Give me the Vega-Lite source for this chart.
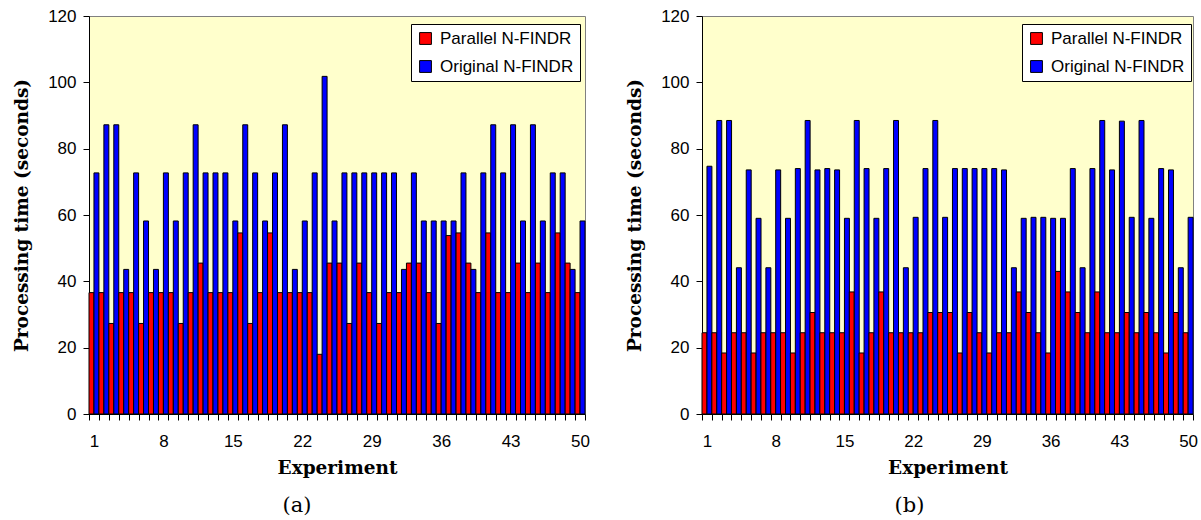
{
  "$schema": "https://vega.github.io/schema/vega-lite/v6.json",
  "padding": {"left": 12, "top": 6, "right": 0, "bottom": 0},
  "background": "white",
  "datasets": {
    "a": [
      {"exp": 1, "Parallel N-FINDR": 36.6, "Original N-FINDR": 72.7},
      {"exp": 2, "Parallel N-FINDR": 36.6, "Original N-FINDR": 87.2},
      {"exp": 3, "Parallel N-FINDR": 27.3, "Original N-FINDR": 87.2},
      {"exp": 4, "Parallel N-FINDR": 36.6, "Original N-FINDR": 43.6},
      {"exp": 5, "Parallel N-FINDR": 36.6, "Original N-FINDR": 72.7},
      {"exp": 6, "Parallel N-FINDR": 27.3, "Original N-FINDR": 58.2},
      {"exp": 7, "Parallel N-FINDR": 36.6, "Original N-FINDR": 43.6},
      {"exp": 8, "Parallel N-FINDR": 36.6, "Original N-FINDR": 72.7},
      {"exp": 9, "Parallel N-FINDR": 36.6, "Original N-FINDR": 58.2},
      {"exp": 10, "Parallel N-FINDR": 27.3, "Original N-FINDR": 72.7},
      {"exp": 11, "Parallel N-FINDR": 36.6, "Original N-FINDR": 87.2},
      {"exp": 12, "Parallel N-FINDR": 45.5, "Original N-FINDR": 72.7},
      {"exp": 13, "Parallel N-FINDR": 36.6, "Original N-FINDR": 72.7},
      {"exp": 14, "Parallel N-FINDR": 36.6, "Original N-FINDR": 72.7},
      {"exp": 15, "Parallel N-FINDR": 36.6, "Original N-FINDR": 58.2},
      {"exp": 16, "Parallel N-FINDR": 54.6, "Original N-FINDR": 87.2},
      {"exp": 17, "Parallel N-FINDR": 27.3, "Original N-FINDR": 72.7},
      {"exp": 18, "Parallel N-FINDR": 36.6, "Original N-FINDR": 58.2},
      {"exp": 19, "Parallel N-FINDR": 54.6, "Original N-FINDR": 72.7},
      {"exp": 20, "Parallel N-FINDR": 36.6, "Original N-FINDR": 87.2},
      {"exp": 21, "Parallel N-FINDR": 36.6, "Original N-FINDR": 43.6},
      {"exp": 22, "Parallel N-FINDR": 36.6, "Original N-FINDR": 58.2},
      {"exp": 23, "Parallel N-FINDR": 36.6, "Original N-FINDR": 72.7},
      {"exp": 24, "Parallel N-FINDR": 18.0, "Original N-FINDR": 101.8},
      {"exp": 25, "Parallel N-FINDR": 45.5, "Original N-FINDR": 58.2},
      {"exp": 26, "Parallel N-FINDR": 45.5, "Original N-FINDR": 72.7},
      {"exp": 27, "Parallel N-FINDR": 27.3, "Original N-FINDR": 72.7},
      {"exp": 28, "Parallel N-FINDR": 45.5, "Original N-FINDR": 72.7},
      {"exp": 29, "Parallel N-FINDR": 36.6, "Original N-FINDR": 72.7},
      {"exp": 30, "Parallel N-FINDR": 27.3, "Original N-FINDR": 72.7},
      {"exp": 31, "Parallel N-FINDR": 36.6, "Original N-FINDR": 72.7},
      {"exp": 32, "Parallel N-FINDR": 36.6, "Original N-FINDR": 43.6},
      {"exp": 33, "Parallel N-FINDR": 45.5, "Original N-FINDR": 72.7},
      {"exp": 34, "Parallel N-FINDR": 45.5, "Original N-FINDR": 58.2},
      {"exp": 35, "Parallel N-FINDR": 36.6, "Original N-FINDR": 58.2},
      {"exp": 36, "Parallel N-FINDR": 27.3, "Original N-FINDR": 58.2},
      {"exp": 37, "Parallel N-FINDR": 53.8, "Original N-FINDR": 58.2},
      {"exp": 38, "Parallel N-FINDR": 54.6, "Original N-FINDR": 72.7},
      {"exp": 39, "Parallel N-FINDR": 45.5, "Original N-FINDR": 43.6},
      {"exp": 40, "Parallel N-FINDR": 36.6, "Original N-FINDR": 72.7},
      {"exp": 41, "Parallel N-FINDR": 54.6, "Original N-FINDR": 87.2},
      {"exp": 42, "Parallel N-FINDR": 36.6, "Original N-FINDR": 72.7},
      {"exp": 43, "Parallel N-FINDR": 36.6, "Original N-FINDR": 87.2},
      {"exp": 44, "Parallel N-FINDR": 45.5, "Original N-FINDR": 58.2},
      {"exp": 45, "Parallel N-FINDR": 36.6, "Original N-FINDR": 87.2},
      {"exp": 46, "Parallel N-FINDR": 45.5, "Original N-FINDR": 58.2},
      {"exp": 47, "Parallel N-FINDR": 36.6, "Original N-FINDR": 72.7},
      {"exp": 48, "Parallel N-FINDR": 54.6, "Original N-FINDR": 72.7},
      {"exp": 49, "Parallel N-FINDR": 45.5, "Original N-FINDR": 43.6},
      {"exp": 50, "Parallel N-FINDR": 36.6, "Original N-FINDR": 58.2}
    ],
    "b": [
      {"exp": 1, "Parallel N-FINDR": 24.5, "Original N-FINDR": 74.7},
      {"exp": 2, "Parallel N-FINDR": 24.5, "Original N-FINDR": 88.5},
      {"exp": 3, "Parallel N-FINDR": 18.4, "Original N-FINDR": 88.5},
      {"exp": 4, "Parallel N-FINDR": 24.5, "Original N-FINDR": 44.1},
      {"exp": 5, "Parallel N-FINDR": 24.5, "Original N-FINDR": 73.6},
      {"exp": 6, "Parallel N-FINDR": 18.4, "Original N-FINDR": 59.0},
      {"exp": 7, "Parallel N-FINDR": 24.5, "Original N-FINDR": 44.1},
      {"exp": 8, "Parallel N-FINDR": 24.5, "Original N-FINDR": 73.6},
      {"exp": 9, "Parallel N-FINDR": 24.5, "Original N-FINDR": 59.0},
      {"exp": 10, "Parallel N-FINDR": 18.4, "Original N-FINDR": 74.0},
      {"exp": 11, "Parallel N-FINDR": 24.5, "Original N-FINDR": 88.5},
      {"exp": 12, "Parallel N-FINDR": 30.6, "Original N-FINDR": 73.6},
      {"exp": 13, "Parallel N-FINDR": 24.5, "Original N-FINDR": 74.0},
      {"exp": 14, "Parallel N-FINDR": 24.5, "Original N-FINDR": 73.6},
      {"exp": 15, "Parallel N-FINDR": 24.5, "Original N-FINDR": 59.0},
      {"exp": 16, "Parallel N-FINDR": 36.8, "Original N-FINDR": 88.5},
      {"exp": 17, "Parallel N-FINDR": 18.4, "Original N-FINDR": 74.0},
      {"exp": 18, "Parallel N-FINDR": 24.5, "Original N-FINDR": 59.0},
      {"exp": 19, "Parallel N-FINDR": 36.8, "Original N-FINDR": 74.0},
      {"exp": 20, "Parallel N-FINDR": 24.5, "Original N-FINDR": 88.5},
      {"exp": 21, "Parallel N-FINDR": 24.5, "Original N-FINDR": 44.1},
      {"exp": 22, "Parallel N-FINDR": 24.5, "Original N-FINDR": 59.3},
      {"exp": 23, "Parallel N-FINDR": 24.5, "Original N-FINDR": 74.0},
      {"exp": 24, "Parallel N-FINDR": 30.6, "Original N-FINDR": 88.5},
      {"exp": 25, "Parallel N-FINDR": 30.6, "Original N-FINDR": 59.3},
      {"exp": 26, "Parallel N-FINDR": 30.6, "Original N-FINDR": 74.0},
      {"exp": 27, "Parallel N-FINDR": 18.4, "Original N-FINDR": 74.0},
      {"exp": 28, "Parallel N-FINDR": 30.6, "Original N-FINDR": 74.0},
      {"exp": 29, "Parallel N-FINDR": 24.5, "Original N-FINDR": 74.0},
      {"exp": 30, "Parallel N-FINDR": 18.4, "Original N-FINDR": 74.0},
      {"exp": 31, "Parallel N-FINDR": 24.5, "Original N-FINDR": 73.6},
      {"exp": 32, "Parallel N-FINDR": 24.5, "Original N-FINDR": 44.1},
      {"exp": 33, "Parallel N-FINDR": 36.8, "Original N-FINDR": 59.0},
      {"exp": 34, "Parallel N-FINDR": 30.6, "Original N-FINDR": 59.3},
      {"exp": 35, "Parallel N-FINDR": 24.5, "Original N-FINDR": 59.3},
      {"exp": 36, "Parallel N-FINDR": 18.4, "Original N-FINDR": 59.0},
      {"exp": 37, "Parallel N-FINDR": 43.0, "Original N-FINDR": 59.0},
      {"exp": 38, "Parallel N-FINDR": 36.8, "Original N-FINDR": 74.0},
      {"exp": 39, "Parallel N-FINDR": 30.6, "Original N-FINDR": 44.1},
      {"exp": 40, "Parallel N-FINDR": 24.5, "Original N-FINDR": 74.0},
      {"exp": 41, "Parallel N-FINDR": 36.8, "Original N-FINDR": 88.5},
      {"exp": 42, "Parallel N-FINDR": 24.5, "Original N-FINDR": 73.6},
      {"exp": 43, "Parallel N-FINDR": 24.5, "Original N-FINDR": 88.3},
      {"exp": 44, "Parallel N-FINDR": 30.6, "Original N-FINDR": 59.3},
      {"exp": 45, "Parallel N-FINDR": 24.5, "Original N-FINDR": 88.5},
      {"exp": 46, "Parallel N-FINDR": 30.6, "Original N-FINDR": 59.0},
      {"exp": 47, "Parallel N-FINDR": 24.5, "Original N-FINDR": 74.0},
      {"exp": 48, "Parallel N-FINDR": 18.4, "Original N-FINDR": 73.6},
      {"exp": 49, "Parallel N-FINDR": 30.6, "Original N-FINDR": 44.1},
      {"exp": 50, "Parallel N-FINDR": 24.5, "Original N-FINDR": 59.3}
    ]
  },
  "bounds": "flush",
  "spacing": 117,
  "resolve": {"scale": {"color": "independent"}, "legend": {"color": "independent"}},
  "hconcat": [
    {
      "data": {"name": "a"},
      "transform": [{"fold": ["Parallel N-FINDR", "Original N-FINDR"], "as": ["series", "value"]}],
      "width": 496,
      "height": 398,
      "title": {"text": "(a)", "orient": "bottom", "font": "DejaVu Serif", "fontSize": 21, "fontWeight": "normal", "color": "black", "offset": 18, "dx": -40},
      "mark": {"type": "bar", "stroke": "black", "strokeWidth": 1},
      "encoding": {
        "x": {"field": "exp", "type": "ordinal", "title": "Experiment",
              "scale": {"paddingInner": 0, "paddingOuter": 0},
              "axis": {"labelAngle": 0, "tickBand": "extent", "labelOverlap": false, "labelExpr": "(datum.value - 1) % 7 == 0 ? datum.label : ''", "labelPadding": 13, "titlePadding": 9}},
        "xOffset": {"field": "series", "type": "nominal", "scale": {"domain": ["Parallel N-FINDR", "Original N-FINDR"], "paddingInner": 0, "paddingOuter": 0}},
        "y": {"field": "value", "type": "quantitative", "title": "Processing time (seconds)",
              "scale": {"domain": [0, 120], "nice": false},
              "axis": {"values": [0, 20, 40, 60, 80, 100, 120], "labelPadding": 7, "titlePadding": 16}},
        "color": {"field": "series", "type": "nominal",
                  "scale": {"domain": ["Parallel N-FINDR", "Original N-FINDR"], "range": ["#FF0000", "#0000FF"]},
                  "legend": {"title": null, "orient": "none", "legendX": 322, "legendY": 8, "fillColor": "white", "strokeColor": "black", "padding": 6, "symbolType": "square", "symbolSize": 140, "symbolStrokeColor": "black", "symbolStrokeWidth": 1, "symbolOpacity": 1, "labelFont": "Liberation Sans", "labelFontSize": 17, "labelColor": "black", "rowPadding": 10, "labelOffset": 6}}
      }
    },
    {
      "data": {"name": "b"},
      "transform": [{"fold": ["Parallel N-FINDR", "Original N-FINDR"], "as": ["series", "value"]}],
      "width": 491,
      "height": 398,
      "title": {"text": "(b)", "orient": "bottom", "font": "DejaVu Serif", "fontSize": 21, "fontWeight": "normal", "color": "black", "offset": 18, "dx": -38},
      "mark": {"type": "bar", "stroke": "black", "strokeWidth": 1},
      "encoding": {
        "x": {"field": "exp", "type": "ordinal", "title": "Experiment",
              "scale": {"paddingInner": 0, "paddingOuter": 0},
              "axis": {"labelAngle": 0, "tickBand": "extent", "labelOverlap": false, "labelExpr": "(datum.value - 1) % 7 == 0 ? datum.label : ''", "labelPadding": 13, "titlePadding": 9}},
        "xOffset": {"field": "series", "type": "nominal", "scale": {"domain": ["Parallel N-FINDR", "Original N-FINDR"], "paddingInner": 0, "paddingOuter": 0}},
        "y": {"field": "value", "type": "quantitative", "title": "Processing time (seconds)",
              "scale": {"domain": [0, 120], "nice": false},
              "axis": {"values": [0, 20, 40, 60, 80, 100, 120], "labelPadding": 7, "titlePadding": 16}},
        "color": {"field": "series", "type": "nominal",
                  "scale": {"domain": ["Parallel N-FINDR", "Original N-FINDR"], "range": ["#FF0000", "#0000FF"]},
                  "legend": {"title": null, "orient": "none", "legendX": 320, "legendY": 8, "fillColor": "white", "strokeColor": "black", "padding": 6, "symbolType": "square", "symbolSize": 140, "symbolStrokeColor": "black", "symbolStrokeWidth": 1, "symbolOpacity": 1, "labelFont": "Liberation Sans", "labelFontSize": 17, "labelColor": "black", "rowPadding": 10, "labelOffset": 6}}
      }
    }
  ],
  "config": {
    "view": {"fill": "#FFFFCC", "stroke": "#808080", "strokeWidth": 1},
    "axis": {"domainColor": "black", "tickColor": "black", "tickSize": 6, "grid": false,
             "labelFont": "Liberation Sans", "labelFontSize": 17, "labelColor": "black",
             "titleFont": "DejaVu Serif", "titleFontWeight": "bold", "titleFontSize": 18.5, "titleColor": "black"}
  }
}
